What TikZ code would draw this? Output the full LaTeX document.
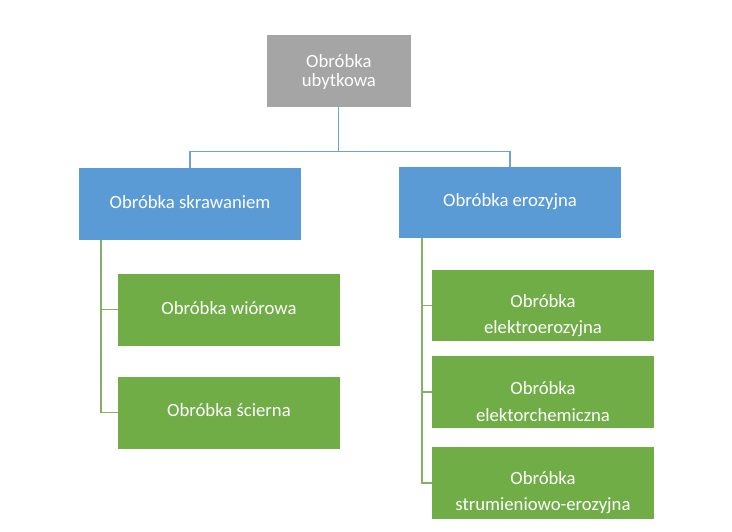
\documentclass[tikz,border=0pt]{standalone}
\usepackage{fontspec}
\setmainfont{Carlito}
\definecolor{boxgray}{HTML}{A5A5A5}
\definecolor{boxblue}{HTML}{5B9BD5}
\definecolor{boxgreen}{HTML}{70AD47}
\definecolor{connblue}{HTML}{6FA3D8}
\definecolor{conngreen}{HTML}{85B065}
\begin{document}
\begin{tikzpicture}[x=1pt,y=-1pt,
  box/.style={inner sep=0pt, outer sep=0pt, draw=none},
  graybox/.style={box, fill=boxgray, minimum width=144.3pt, minimum height=71.7pt},
  bluebox/.style={box, fill=boxblue, minimum width=222pt, minimum height=71.5pt},
  greenbox/.style={box, fill=boxgreen, minimum width=222pt, minimum height=71.5pt},
  lbl/.style={inner sep=0pt, text=white, font=\fontsize{18.7}{26.5}\selectfont, align=center},
  bconn/.style={draw=connblue, line width=1.2pt},
  gconn/.style={draw=conngreen, line width=1.1pt}]
\useasboundingbox (0,0) rectangle (732,532);
% boxes
\node[graybox]  (top) at (338.85,70.85) {};
\node[bluebox]  (lb)  at (190,204) {};
\node[bluebox]  (rb)  at (510,202.4) {};
\node[greenbox] (w)   at (229,309.9) {};
\node[greenbox] (s)   at (229,412.9) {};
\node[greenbox] (e1)  at (543,305.4) {};
\node[greenbox] (e2)  at (543,392) {};
\node[greenbox] (e3)  at (543,483) {};
% texts (base anchor = baseline of the last line)
\node[lbl, font=\fontsize{18.7}{19.4}\selectfont, anchor=base] (ttop) at (338.85,86.7) {Obróbka\\ubytkowa};
\node[lbl, anchor=base] (tlb) at (190,208.3) {Obróbka skrawaniem};
\node[lbl, anchor=base] (trb) at (510,206.7) {Obróbka erozyjna};
\node[lbl, anchor=base] (tw)  at (229,314) {Obróbka wiórowa};
\node[lbl, anchor=base] (ts)  at (229,416.7) {Obróbka ścierna};
\node[lbl, anchor=base] (te1) at (543,334) {Obróbka\\elektroerozyjna};
\node[lbl, anchor=base] (te2) at (543,421) {Obróbka\\elektorchemiczna};
\node[lbl, anchor=base] (te3) at (543,510.7) {Obróbka\\strumieniowo-erozyjna};
% connectors
\coordinate (j) at (338.85,151.5);
\draw[bconn] (top.south) -- (j) -| (lb.north);
\draw[bconn] (j) -| (rb.north);
\coordinate (ls) at (101,240);
\draw[gconn] (ls) |- (w.west);
\draw[gconn] (ls) |- (s.west);
\coordinate (rs) at (422,238);
\draw[gconn] (rs) |- (e1.west);
\draw[gconn] (rs) |- (e2.west);
\draw[gconn] (rs) |- (e3.west);
\end{tikzpicture}
\end{document}
